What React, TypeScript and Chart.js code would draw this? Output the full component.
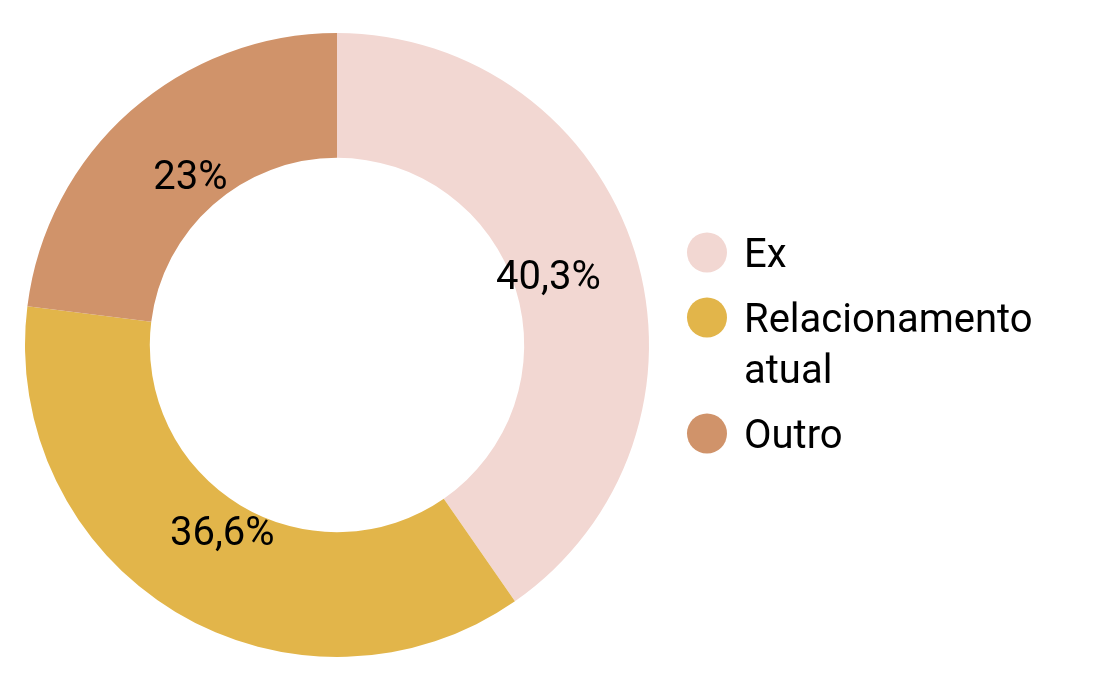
import React, { useEffect, useRef } from "react";
import { Chart, registerables } from "chart.js";

Chart.register(...registerables);

const categories: string[][] = [["Ex"], ["Relacionamento", "atual"], ["Outro"]];
const values: number[] = [40.3, 36.6, 23];
const valueLabels: string[] = ["40,3%", "36,6%", "23%"];
const colors: string[] = ["#F2D7D2", "#E2B54A", "#D0936A"];

const FONT = "40px Roboto";

const arcLabelsPlugin = {
  id: "arcLabels",
  afterDatasetsDraw(chart: any) {
    const meta = chart.getDatasetMeta(0);
    const ctx = chart.ctx;
    ctx.save();
    ctx.font = FONT;
    ctx.fillStyle = "#000";
    ctx.textAlign = "center";
    ctx.textBaseline = "middle";
    meta.data.forEach((arc: any, i: number) => {
      const { x, y, startAngle, endAngle, outerRadius } = arc.getProps(
        ["x", "y", "startAngle", "endAngle", "outerRadius"],
        true
      );
      const mid = (startAngle + endAngle) / 2;
      const r = outerRadius * 0.71;
      ctx.fillText(valueLabels[i], x + Math.cos(mid) * r, y + Math.sin(mid) * r);
    });
    ctx.restore();
  },
};

const legendPlugin = {
  id: "customLegend",
  afterDraw(chart: any) {
    const ctx = chart.ctx;
    const area = chart.chartArea;
    const cy = (area.top + area.bottom) / 2;
    const lineH = 51;
    const gap = 14;
    const capH = 28;
    let totalLines = 0;
    categories.forEach((c) => (totalLines += c.length));
    const blockH = (totalLines - 1) * lineH + (categories.length - 1) * gap + capH;
    let baseline = cy - blockH / 2 + capH - 2;
    const circleX = area.right + 58;
    const textX = area.right + 95;
    ctx.save();
    ctx.font = FONT;
    ctx.textAlign = "left";
    ctx.textBaseline = "alphabetic";
    categories.forEach((lines, i) => {
      ctx.fillStyle = colors[i];
      ctx.beginPath();
      ctx.arc(circleX, baseline - capH / 2, 20, 0, Math.PI * 2);
      ctx.fill();
      ctx.fillStyle = "#000";
      lines.forEach((t, j) => {
        ctx.fillText(t, textX, baseline);
        if (j < lines.length - 1) baseline += lineH;
      });
      baseline += lineH + gap;
    });
    ctx.restore();
  },
};

export default function App() {
  const ref = useRef<HTMLCanvasElement>(null);
  useEffect(() => {
    if (!ref.current) return;
    const chart = new Chart(ref.current, {
      type: "doughnut",
      data: {
        labels: categories.map((c) => c.join(" ")),
        datasets: [
          {
            data: values,
            backgroundColor: colors,
            borderWidth: 0,
          },
        ],
      },
      options: {
        animation: false,
        responsive: true,
        maintainAspectRatio: false,
        cutout: "60%",
        layout: { padding: { left: 17, top: 25, bottom: 20, right: 448 } },
        plugins: {
          legend: { display: false },
          tooltip: { enabled: false },
        },
      },
      plugins: [arcLabelsPlugin, legendPlugin],
    });
    return () => chart.destroy();
  }, []);
  return (
    <div style={{ width: 1089, height: 669, position: "relative" }}>
      <canvas ref={ref} />
    </div>
  );
}
